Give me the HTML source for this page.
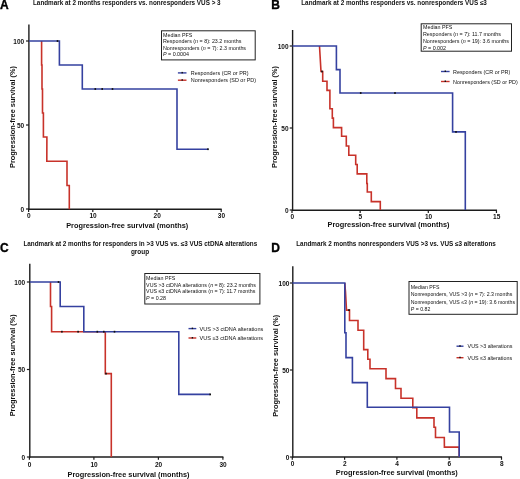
<!DOCTYPE html>
<html><head><meta charset="utf-8"><style>
html,body{margin:0;padding:0;background:#fff;}
svg{display:block;font-family:"Liberation Sans", sans-serif;filter:blur(0.3px);}
</style></head><body>
<svg width="520" height="479" viewBox="0 0 520 479">
<rect width="520" height="479" fill="#fff"/>
<text x="0" y="9.3" font-size="12" font-weight="bold" fill="#000" stroke="#000" stroke-width="0.35">A</text>
<text x="33" y="4.9" font-size="6.33" font-weight="bold" fill="#111">Landmark at 2 months responders vs. nonresponders VUS &gt; 3</text>
<line x1="28.9" y1="24.5" x2="28.9" y2="210.0" stroke="#1c1c1c" stroke-width="1.4"/>
<line x1="28.2" y1="209.3" x2="221.7" y2="209.3" stroke="#1c1c1c" stroke-width="1.4"/>
<line x1="26.0" y1="41.0" x2="28.9" y2="41.0" stroke="#1c1c1c" stroke-width="1.2"/>
<text x="24.2" y="43.9" font-size="6.5" font-weight="bold" text-anchor="end" fill="#111">100</text>
<line x1="26.0" y1="125.0" x2="28.9" y2="125.0" stroke="#1c1c1c" stroke-width="1.2"/>
<text x="24.2" y="127.9" font-size="6.5" font-weight="bold" text-anchor="end" fill="#111">50</text>
<line x1="26.0" y1="209.0" x2="28.9" y2="209.0" stroke="#1c1c1c" stroke-width="1.2"/>
<text x="24.2" y="211.9" font-size="6.5" font-weight="bold" text-anchor="end" fill="#111">0</text>
<line x1="28.6" y1="209.3" x2="28.6" y2="212.10000000000002" stroke="#1c1c1c" stroke-width="1.2"/>
<text x="28.8" y="217.9" font-size="6.5" font-weight="bold" text-anchor="middle" fill="#111">0</text>
<line x1="92.80000000000001" y1="209.3" x2="92.80000000000001" y2="212.10000000000002" stroke="#1c1c1c" stroke-width="1.2"/>
<text x="93.00000000000001" y="217.9" font-size="6.5" font-weight="bold" text-anchor="middle" fill="#111">10</text>
<line x1="157.0" y1="209.3" x2="157.0" y2="212.10000000000002" stroke="#1c1c1c" stroke-width="1.2"/>
<text x="157.2" y="217.9" font-size="6.5" font-weight="bold" text-anchor="middle" fill="#111">20</text>
<line x1="221.2" y1="209.3" x2="221.2" y2="212.10000000000002" stroke="#1c1c1c" stroke-width="1.2"/>
<text x="221.39999999999998" y="217.9" font-size="6.5" font-weight="bold" text-anchor="middle" fill="#111">30</text>
<text x="66.2" y="227.9" font-size="7.35" font-weight="bold" fill="#111">Progression-free survival (months)</text>
<text x="0" y="0" font-size="7.35" font-weight="bold" text-anchor="middle" fill="#111" transform="translate(15,117) rotate(-90)">Progression-free survival (%)</text>
<path d="M41.60,41.00 L41.60,65.00 L42.00,65.00 L42.00,89.00 L42.50,89.00 L42.50,113.00 L43.40,113.00 L43.40,137.00 L46.90,137.00 L46.80,161.25 L67.00,161.25 L67.00,185.50 L69.30,185.50 L69.30,209.30" fill="none" stroke="#c8322a" stroke-width="1.6" stroke-linejoin="miter"/>
<path d="M29.00,41.00 L59.40,41.00 L59.40,65.00 L82.30,65.00 L82.30,89.00 L177.00,89.00 L177.00,149.20 L208.00,149.20" fill="none" stroke="#3541a0" stroke-width="1.6" stroke-linejoin="miter"/>
<rect x="56.70" y="40.10" width="1.6" height="1.8" fill="#111"/>
<rect x="94.50" y="88.10" width="1.6" height="1.8" fill="#111"/>
<rect x="101.40" y="88.10" width="1.6" height="1.8" fill="#111"/>
<rect x="111.70" y="88.10" width="1.6" height="1.8" fill="#111"/>
<rect x="207.20" y="148.30" width="1.6" height="1.8" fill="#111"/>
<rect x="161.5" y="30.8" width="93.69999999999999" height="29.099999999999998" fill="none" stroke="#222" stroke-width="1.0"/>
<text x="163" y="36.6" font-size="5.35" fill="#111">Median PFS</text>
<text x="163" y="43.1" font-size="5.35" fill="#111">Responders (<tspan font-style="italic">n</tspan> = 8): 23.2 months</text>
<text x="163" y="49.6" font-size="5.35" fill="#111">Nonresponders (<tspan font-style="italic">n</tspan> = 7): 2.3 months</text>
<text x="163" y="56.1" font-size="5.35" fill="#111"><tspan font-style="italic">P</tspan> = 0.0004</text>
<line x1="177.9" y1="72.9" x2="186.5" y2="72.9" stroke="#3541a0" stroke-width="1.4"/>
<rect x="181.50" y="71.90" width="1.4" height="1.5" fill="#111"/>
<text x="190.8" y="75.0" font-size="5.45" fill="#111">Responders (CR or PR)</text>
<line x1="177.9" y1="80.2" x2="186.5" y2="80.2" stroke="#c8322a" stroke-width="1.4"/>
<rect x="181.50" y="79.20" width="1.4" height="1.5" fill="#111"/>
<text x="190.8" y="82.3" font-size="5.45" fill="#111">Nonresponders (SD or PD)</text>
<text x="271.3" y="9.4" font-size="12" font-weight="bold" fill="#000" stroke="#000" stroke-width="0.35">B</text>
<text x="301.25" y="4.9" font-size="6.33" font-weight="bold" fill="#111">Landmark at 2 months responders vs. nonresponders VUS ≤3</text>
<line x1="292.6" y1="30" x2="292.6" y2="210.89999999999998" stroke="#1c1c1c" stroke-width="1.4"/>
<line x1="291.90000000000003" y1="210.2" x2="497.0" y2="210.2" stroke="#1c1c1c" stroke-width="1.4"/>
<line x1="289.70000000000005" y1="46.0" x2="292.6" y2="46.0" stroke="#1c1c1c" stroke-width="1.2"/>
<text x="288.6" y="48.9" font-size="6.5" font-weight="bold" text-anchor="end" fill="#111">100</text>
<line x1="289.70000000000005" y1="128.0" x2="292.6" y2="128.0" stroke="#1c1c1c" stroke-width="1.2"/>
<text x="288.6" y="130.9" font-size="6.5" font-weight="bold" text-anchor="end" fill="#111">50</text>
<line x1="289.70000000000005" y1="210.0" x2="292.6" y2="210.0" stroke="#1c1c1c" stroke-width="1.2"/>
<text x="288.6" y="212.9" font-size="6.5" font-weight="bold" text-anchor="end" fill="#111">0</text>
<line x1="292.0" y1="210.2" x2="292.0" y2="213.0" stroke="#1c1c1c" stroke-width="1.2"/>
<text x="292.2" y="219.0" font-size="6.5" font-weight="bold" text-anchor="middle" fill="#111">0</text>
<line x1="360.15" y1="210.2" x2="360.15" y2="213.0" stroke="#1c1c1c" stroke-width="1.2"/>
<text x="360.34999999999997" y="219.0" font-size="6.5" font-weight="bold" text-anchor="middle" fill="#111">5</text>
<line x1="428.3" y1="210.2" x2="428.3" y2="213.0" stroke="#1c1c1c" stroke-width="1.2"/>
<text x="428.5" y="219.0" font-size="6.5" font-weight="bold" text-anchor="middle" fill="#111">10</text>
<line x1="496.45000000000005" y1="210.2" x2="496.45000000000005" y2="213.0" stroke="#1c1c1c" stroke-width="1.2"/>
<text x="496.65000000000003" y="219.0" font-size="6.5" font-weight="bold" text-anchor="middle" fill="#111">15</text>
<text x="327.5" y="227.4" font-size="7.35" font-weight="bold" fill="#111">Progression-free survival (months)</text>
<text x="0" y="0" font-size="7.35" font-weight="bold" text-anchor="middle" fill="#111" transform="translate(277,117) rotate(-90)">Progression-free survival (%)</text>
<path d="M319.50,46.00 L321.00,71.50 L322.70,71.50 L322.70,81.25 L327.00,81.25 L327.00,90.40 L329.90,90.40 L329.90,108.70 L332.30,108.70 L332.30,118.10 L333.40,118.10 L333.40,127.60 L341.60,127.60 L341.60,136.30 L346.30,136.30 L346.30,146.00 L348.80,146.00 L348.80,155.30 L355.70,155.30 L355.70,164.50 L357.20,164.50 L357.20,173.85 L366.80,173.85 L366.80,183.50 L367.30,183.50 L367.30,192.00 L371.30,192.00 L371.30,201.60 L380.30,201.60 L380.30,210.00" fill="none" stroke="#c8322a" stroke-width="1.6" stroke-linejoin="miter"/>
<path d="M292.50,46.00 L336.40,46.00 L336.40,69.60 L340.00,69.60 L340.00,93.00 L452.60,93.00 L452.60,131.90 L465.30,131.90 L465.30,210.00" fill="none" stroke="#3541a0" stroke-width="1.6" stroke-linejoin="miter"/>
<rect x="321.20" y="70.60" width="1.6" height="1.8" fill="#111"/>
<rect x="359.90" y="92.10" width="1.6" height="1.8" fill="#111"/>
<rect x="394.20" y="92.10" width="1.6" height="1.8" fill="#111"/>
<rect x="455.20" y="131.00" width="1.6" height="1.8" fill="#111"/>
<rect x="421.2" y="23.8" width="90.30000000000001" height="27.400000000000002" fill="none" stroke="#222" stroke-width="1.0"/>
<text x="423" y="29.3" font-size="5.35" fill="#111">Median PFS</text>
<text x="423" y="36.3" font-size="5.35" fill="#111">Responders (<tspan font-style="italic">n</tspan> = 7): 11.7 months</text>
<text x="423" y="43.3" font-size="5.35" fill="#111">Nonresponders (<tspan font-style="italic">n</tspan> = 19): 3.6 months</text>
<text x="423" y="50.3" font-size="5.35" fill="#111"><tspan font-style="italic">P</tspan> = 0.002</text>
<line x1="441" y1="71.5" x2="449.6" y2="71.5" stroke="#3541a0" stroke-width="1.4"/>
<rect x="444.60" y="70.50" width="1.4" height="1.5" fill="#111"/>
<text x="453" y="73.6" font-size="5.4" fill="#111">Responders (CR or PR)</text>
<line x1="441" y1="81.5" x2="449.6" y2="81.5" stroke="#c8322a" stroke-width="1.4"/>
<rect x="444.60" y="80.50" width="1.4" height="1.5" fill="#111"/>
<text x="453" y="83.6" font-size="5.4" fill="#111">Nonresponders (SD or PD)</text>
<text x="0" y="252.3" font-size="12" font-weight="bold" fill="#000" stroke="#000" stroke-width="0.35">C</text>
<text x="140.3" y="246.2" font-size="6.33" font-weight="bold" text-anchor="middle" fill="#111">Landmark at 2 months for responders in &gt;3 VUS vs. ≤3 VUS ctDNA alterations</text>
<text x="140" y="253.9" font-size="6.45" font-weight="bold" text-anchor="middle" fill="#111">group</text>
<line x1="29.8" y1="263.75" x2="29.8" y2="457.7" stroke="#1c1c1c" stroke-width="1.4"/>
<line x1="29.1" y1="457" x2="223.4" y2="457" stroke="#1c1c1c" stroke-width="1.4"/>
<line x1="26.900000000000002" y1="282.0" x2="29.8" y2="282.0" stroke="#1c1c1c" stroke-width="1.2"/>
<text x="25.2" y="284.9" font-size="6.5" font-weight="bold" text-anchor="end" fill="#111">100</text>
<line x1="26.900000000000002" y1="369.5" x2="29.8" y2="369.5" stroke="#1c1c1c" stroke-width="1.2"/>
<text x="25.2" y="372.4" font-size="6.5" font-weight="bold" text-anchor="end" fill="#111">50</text>
<line x1="26.900000000000002" y1="457.0" x2="29.8" y2="457.0" stroke="#1c1c1c" stroke-width="1.2"/>
<text x="25.2" y="459.9" font-size="6.5" font-weight="bold" text-anchor="end" fill="#111">0</text>
<line x1="29.4" y1="457" x2="29.4" y2="459.8" stroke="#1c1c1c" stroke-width="1.2"/>
<text x="29.599999999999998" y="467.2" font-size="6.5" font-weight="bold" text-anchor="middle" fill="#111">0</text>
<line x1="93.9" y1="457" x2="93.9" y2="459.8" stroke="#1c1c1c" stroke-width="1.2"/>
<text x="94.10000000000001" y="467.2" font-size="6.5" font-weight="bold" text-anchor="middle" fill="#111">10</text>
<line x1="158.4" y1="457" x2="158.4" y2="459.8" stroke="#1c1c1c" stroke-width="1.2"/>
<text x="158.6" y="467.2" font-size="6.5" font-weight="bold" text-anchor="middle" fill="#111">20</text>
<line x1="222.9" y1="457" x2="222.9" y2="459.8" stroke="#1c1c1c" stroke-width="1.2"/>
<text x="223.1" y="467.2" font-size="6.5" font-weight="bold" text-anchor="middle" fill="#111">30</text>
<text x="67.5" y="477.0" font-size="7.35" font-weight="bold" fill="#111">Progression-free survival (months)</text>
<text x="0" y="0" font-size="7.35" font-weight="bold" text-anchor="middle" fill="#111" transform="translate(15.2,365.3) rotate(-90)">Progression-free survival (%)</text>
<path d="M50.50,282.00 L50.50,306.50 L51.60,306.50 L51.60,331.70 L105.30,331.70 L105.30,373.60 L111.30,373.60 L111.30,457.00" fill="none" stroke="#c8322a" stroke-width="1.6" stroke-linejoin="miter"/>
<path d="M30.00,282.00 L60.20,282.00 L60.20,306.50 L83.80,306.50 L83.80,331.70 L178.80,331.70 L178.80,394.40 L210.20,394.40" fill="none" stroke="#3541a0" stroke-width="1.6" stroke-linejoin="miter"/>
<rect x="57.70" y="281.10" width="1.6" height="1.8" fill="#111"/>
<rect x="61.10" y="330.80" width="1.6" height="1.8" fill="#111"/>
<rect x="77.30" y="330.80" width="1.6" height="1.8" fill="#111"/>
<rect x="96.50" y="330.80" width="1.6" height="1.8" fill="#111"/>
<rect x="103.00" y="330.80" width="1.6" height="1.8" fill="#111"/>
<rect x="113.70" y="330.80" width="1.6" height="1.8" fill="#111"/>
<rect x="105.20" y="372.70" width="1.6" height="1.8" fill="#111"/>
<rect x="209.40" y="393.50" width="1.6" height="1.8" fill="#111"/>
<rect x="144.8" y="273.5" width="115.09999999999997" height="30.5" fill="none" stroke="#222" stroke-width="1.0"/>
<text x="146.1" y="280.0" font-size="5.3" fill="#111">Median PFS</text>
<text x="146.1" y="286.65" font-size="5.3" fill="#111">VUS &gt;3 ctDNA alterations (<tspan font-style="italic">n</tspan> = 8): 23.2 months</text>
<text x="146.1" y="293.3" font-size="5.3" fill="#111">VUS ≤3 ctDNA alterations (<tspan font-style="italic">n</tspan> = 7): 11.7 months</text>
<text x="146.1" y="299.95" font-size="5.3" fill="#111"><tspan font-style="italic">P</tspan> = 0.28</text>
<line x1="188.5" y1="328.6" x2="196.3" y2="328.6" stroke="#3541a0" stroke-width="1.4"/>
<rect x="191.70" y="327.60" width="1.4" height="1.5" fill="#111"/>
<text x="199.6" y="330.70000000000005" font-size="5.55" fill="#111">VUS &gt;3 ctDNA alterations</text>
<line x1="188.5" y1="338.0" x2="196.3" y2="338.0" stroke="#c8322a" stroke-width="1.4"/>
<rect x="191.70" y="337.00" width="1.4" height="1.5" fill="#111"/>
<text x="199.6" y="340.1" font-size="5.55" fill="#111">VUS ≤3 ctDNA alterations</text>
<text x="271.3" y="252.2" font-size="12" font-weight="bold" fill="#000" stroke="#000" stroke-width="0.35">D</text>
<text x="296.25" y="246.0" font-size="6.33" font-weight="bold" fill="#111">Landmark 2 months nonresponders VUS &gt;3 vs. VUS ≤3 alterations</text>
<line x1="292.8" y1="266.25" x2="292.8" y2="457.7" stroke="#1c1c1c" stroke-width="1.4"/>
<line x1="292.1" y1="457" x2="502.0" y2="457" stroke="#1c1c1c" stroke-width="1.4"/>
<line x1="289.90000000000003" y1="283.0" x2="292.8" y2="283.0" stroke="#1c1c1c" stroke-width="1.2"/>
<text x="289.4" y="285.9" font-size="6.5" font-weight="bold" text-anchor="end" fill="#111">100</text>
<line x1="289.90000000000003" y1="370.0" x2="292.8" y2="370.0" stroke="#1c1c1c" stroke-width="1.2"/>
<text x="289.4" y="372.9" font-size="6.5" font-weight="bold" text-anchor="end" fill="#111">50</text>
<line x1="289.90000000000003" y1="457.0" x2="292.8" y2="457.0" stroke="#1c1c1c" stroke-width="1.2"/>
<text x="289.4" y="459.9" font-size="6.5" font-weight="bold" text-anchor="end" fill="#111">0</text>
<line x1="292.3" y1="457" x2="292.3" y2="459.8" stroke="#1c1c1c" stroke-width="1.2"/>
<text x="292.5" y="465.9" font-size="6.5" font-weight="bold" text-anchor="middle" fill="#111">0</text>
<line x1="344.6" y1="457" x2="344.6" y2="459.8" stroke="#1c1c1c" stroke-width="1.2"/>
<text x="344.8" y="465.9" font-size="6.5" font-weight="bold" text-anchor="middle" fill="#111">2</text>
<line x1="396.9" y1="457" x2="396.9" y2="459.8" stroke="#1c1c1c" stroke-width="1.2"/>
<text x="397.09999999999997" y="465.9" font-size="6.5" font-weight="bold" text-anchor="middle" fill="#111">4</text>
<line x1="449.2" y1="457" x2="449.2" y2="459.8" stroke="#1c1c1c" stroke-width="1.2"/>
<text x="449.4" y="465.9" font-size="6.5" font-weight="bold" text-anchor="middle" fill="#111">6</text>
<line x1="501.5" y1="457" x2="501.5" y2="459.8" stroke="#1c1c1c" stroke-width="1.2"/>
<text x="501.7" y="465.9" font-size="6.5" font-weight="bold" text-anchor="middle" fill="#111">8</text>
<text x="335.8" y="475.4" font-size="7.35" font-weight="bold" fill="#111">Progression-free survival (months)</text>
<text x="0" y="0" font-size="7.35" font-weight="bold" text-anchor="middle" fill="#111" transform="translate(278.3,365.8) rotate(-90)">Progression-free survival (%)</text>
<path d="M344.80,283.00 L345.50,292.00 L346.50,310.10 L349.50,310.10 L349.50,320.50 L358.00,320.50 L358.00,330.20 L363.70,330.20 L363.70,349.60 L367.80,349.60 L367.80,359.30 L370.00,359.30 L370.00,368.80 L386.00,368.80 L386.00,378.60 L395.50,378.60 L395.50,388.50 L401.00,388.50 L401.00,398.30 L412.80,398.30 L412.80,407.60 L416.80,407.60 L416.80,417.90 L434.00,417.90 L434.00,427.20 L435.50,427.20 L435.50,437.50 L444.30,437.50 L444.40,447.10 L459.20,447.10 L459.20,457.00" fill="none" stroke="#c8322a" stroke-width="1.6" stroke-linejoin="miter"/>
<path d="M292.40,283.00 L344.80,283.00 L344.80,332.80 L346.00,332.80 L346.00,357.60 L352.40,357.60 L352.40,382.60 L367.30,382.60 L367.30,407.20 L449.50,407.20 L449.50,432.00 L459.20,432.00 L459.20,457.00" fill="none" stroke="#3541a0" stroke-width="1.6" stroke-linejoin="miter"/>
<rect x="348.20" y="309.20" width="1.6" height="1.8" fill="#111"/>
<rect x="409" y="281.5" width="108.20000000000005" height="32.80000000000001" fill="none" stroke="#222" stroke-width="1.0"/>
<text x="410.8" y="288.9" font-size="5.2" fill="#111">Median PFS</text>
<text x="410.8" y="296.4" font-size="5.2" fill="#111">Nonresponders, VUS &gt;3 (<tspan font-style="italic">n</tspan> = 7): 2.3 months</text>
<text x="410.8" y="303.9" font-size="5.2" fill="#111">Nonresponders, VUS ≤3 (<tspan font-style="italic">n</tspan> = 19): 3.6 months</text>
<text x="410.8" y="311.4" font-size="5.2" fill="#111"><tspan font-style="italic">P</tspan> = 0.82</text>
<line x1="456.5" y1="346.2" x2="463.5" y2="346.2" stroke="#3541a0" stroke-width="1.4"/>
<rect x="459.30" y="345.20" width="1.4" height="1.5" fill="#111"/>
<text x="467.6" y="348.3" font-size="5.35" fill="#111">VUS &gt;3 alterations</text>
<line x1="456.5" y1="357.7" x2="463.5" y2="357.7" stroke="#c8322a" stroke-width="1.4"/>
<rect x="459.30" y="356.70" width="1.4" height="1.5" fill="#111"/>
<text x="467.6" y="359.8" font-size="5.35" fill="#111">VUS ≤3 alterations</text>
</svg>
</body></html>
